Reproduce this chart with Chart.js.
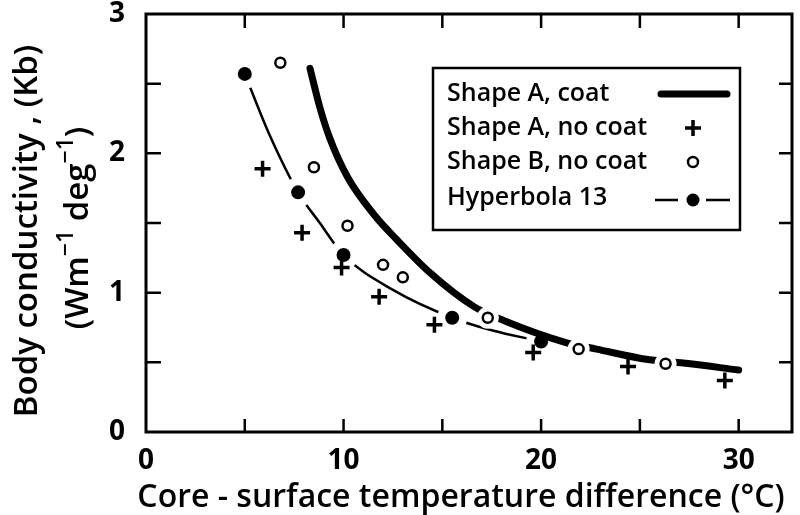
<!DOCTYPE html>
<html>
<head>
<meta charset="utf-8">
<title>Body conductivity vs core-surface temperature difference</title>
<script src="https://cdn.jsdelivr.net/npm/chart.js@4.4.1/dist/chart.umd.min.js"></script>
<style>
    html, body { margin: 0; padding: 0; background: #fff; }
    #wrap { width: 800px; height: 515px; }
</style>
</head>
<body>
<div id="wrap"><canvas id="chart" width="800" height="515"></canvas></div>
<script>
// Shape A, coat - thick curve
const coatX = [8.3, 8.8, 9.3, 10.2, 11.6, 12.7, 14.4, 16.6, 18.1, 21.3, 22.8, 25.4, 27.2, 30.0];
const coatY = [2.61, 2.33, 2.11, 1.83, 1.55, 1.38, 1.14, 0.90, 0.80, 0.64, 0.595, 0.52, 0.495, 0.445];

// Shape A, no coat - crosses
const bareAX = [5.9, 7.9, 9.9, 11.8, 14.6, 19.6, 24.4, 29.3];
const bareAY = [1.89, 1.43, 1.18, 0.97, 0.77, 0.57, 0.47, 0.37];

// Shape B, no coat - open circles
const bareBX = [6.8, 8.5, 10.2, 12.0, 13.0, 17.3, 21.9, 26.3];
const bareBY = [2.65, 1.90, 1.48, 1.20, 1.11, 0.82, 0.595, 0.49];

// Hyperbola 13 - thin curve and its marked points
const hypX = [5.0, 6.2, 7.7, 8.8, 10.0, 12.5, 15.5, 17.5, 20.0];
const hypY = [2.57, 2.15, 1.72, 1.50, 1.27, 1.02, 0.82, 0.73, 0.65];
const hypDotX = [5.0, 7.7, 10.0, 15.5, 20.0];
const hypDotY = [2.57, 1.72, 1.27, 0.82, 0.65];

const seriesNames = ['Shape A, coat', 'Shape A, no coat', 'Shape B, no coat', 'Hyperbola 13'];

const xTickLabels = [0, 10, 20, 30];
const yTickLabels = [0, 1, 2, 3];
const xTickMarks = [5, 10, 15, 20, 25, 30];
const yTickMarks = [0.5, 1, 1.5, 2, 2.5];

const xTitle = 'Core - surface temperature difference (°C)';
const yTitle1 = 'Body conductivity , (Kb)';

const FONT = '"Open Sans", "DejaVu Sans", sans-serif';
const INK = '#000';

const toPoints = (xs, ys) => xs.map((x, i) => ({ x: x, y: ys[i] }));

// white disc behind the open circles so the thick curve breaks around them
const haloPlugin = {
    id: 'halo',
    beforeDatasetDraw(chart, args) {
        if (args.index !== 1) return;
        const ctx = chart.ctx;
        ctx.save();
        ctx.fillStyle = '#fff';
        args.meta.data.forEach(p => {
            ctx.beginPath();
            ctx.arc(p.x, p.y, 11, 0, Math.PI * 2);
            ctx.fill();
        });
        ctx.restore();
    }
};

// boxed frame with inward tick marks on all four sides
const framePlugin = {
    id: 'frame',
    afterDatasetsDraw(chart) {
        const { ctx, chartArea: a, scales } = chart;
        ctx.save();
        ctx.strokeStyle = INK;
        ctx.lineWidth = 3;
        ctx.strokeRect(a.left, a.top, a.right - a.left, a.bottom - a.top);
        ctx.lineWidth = 2.5;
        ctx.beginPath();
        xTickMarks.forEach(v => {
            const px = scales.x.getPixelForValue(v);
            ctx.moveTo(px, a.bottom); ctx.lineTo(px, a.bottom - 13);
            ctx.moveTo(px, a.top); ctx.lineTo(px, a.top + 14);
        });
        yTickMarks.forEach(v => {
            const py = scales.y.getPixelForValue(v);
            ctx.moveTo(a.left, py); ctx.lineTo(a.left + 15, py);
            ctx.moveTo(a.right, py); ctx.lineTo(a.right - 13, py);
        });
        ctx.stroke();
        ctx.restore();
    }
};

// axis titles: x along the bottom, y as two rotated lines (second with superscripts)
const titlesPlugin = {
    id: 'axisTitles',
    afterDraw(chart) {
        const ctx = chart.ctx;
        ctx.save();
        ctx.fillStyle = INK;
        ctx.textBaseline = 'alphabetic';

        ctx.font = '600 32px ' + FONT;
        ctx.textAlign = 'center';
        ctx.fillText(xTitle, 461, 507);

        ctx.save();
        ctx.translate(37, 231);
        ctx.rotate(-Math.PI / 2);
        ctx.font = '600 33px ' + FONT;
        ctx.fillText(yTitle1, 0, 0);
        ctx.restore();

        const main = '600 33px ' + FONT;
        const sup = '600 23px ' + FONT;
        const parts = [
            { text: '(Wm', font: main, dy: 0 },
            { text: '\u22121', font: sup, dy: -15 },
            { text: ' deg', font: main, dy: 0 },
            { text: '\u22121', font: sup, dy: -15 },
            { text: ')', font: main, dy: 0 }
        ];
        ctx.translate(88, 228);
        ctx.rotate(-Math.PI / 2);
        ctx.textAlign = 'left';
        let total = 0;
        parts.forEach(p => {
            ctx.font = p.font;
            p.w = ctx.measureText(p.text).width;
            total += p.w;
        });
        let x = -total / 2;
        parts.forEach(p => {
            ctx.font = p.font;
            ctx.fillText(p.text, x, p.dy);
            x += p.w;
        });
        ctx.restore();
    }
};

// legend box in the upper right of the plot
const legendPlugin = {
    id: 'boxLegend',
    afterDraw(chart) {
        const ctx = chart.ctx;
        const box = { x: 433, y: 68, w: 307, h: 162 };
        const rows = [94, 128, 162, 198];
        const symX = 693;
        ctx.save();
        ctx.fillStyle = '#fff';
        ctx.fillRect(box.x, box.y, box.w, box.h);
        ctx.strokeStyle = INK;
        ctx.lineWidth = 2.5;
        ctx.strokeRect(box.x, box.y, box.w, box.h);

        ctx.fillStyle = INK;
        ctx.font = '600 25px ' + FONT;
        ctx.textBaseline = 'middle';
        ctx.textAlign = 'left';
        seriesNames.forEach((name, i) => ctx.fillText(name, 447, rows[i]));

        // thick line
        ctx.lineCap = 'round';
        ctx.lineWidth = 7;
        ctx.beginPath();
        ctx.moveTo(661, rows[0]); ctx.lineTo(727, rows[0]);
        ctx.stroke();
        // cross
        ctx.lineCap = 'butt';
        ctx.lineWidth = 3.5;
        ctx.beginPath();
        ctx.moveTo(symX - 8, rows[1]); ctx.lineTo(symX + 8, rows[1]);
        ctx.moveTo(symX, rows[1] - 8); ctx.lineTo(symX, rows[1] + 8);
        ctx.stroke();
        // open circle
        ctx.lineWidth = 2.5;
        ctx.beginPath();
        ctx.arc(symX, rows[2], 5, 0, Math.PI * 2);
        ctx.stroke();
        // dash - dot - dash
        ctx.lineWidth = 2.5;
        ctx.beginPath();
        ctx.moveTo(655, rows[3] + 2); ctx.lineTo(678, rows[3] + 2);
        ctx.moveTo(706, rows[3] + 2); ctx.lineTo(730, rows[3] + 2);
        ctx.stroke();
        ctx.beginPath();
        ctx.arc(symX, rows[3] + 2, 6.5, 0, Math.PI * 2);
        ctx.fill();
        ctx.restore();
    }
};

const ctx = document.getElementById('chart').getContext('2d');
const chart = new Chart(ctx, {
    type: 'scatter',
    data: {
        datasets: [
            {
                label: seriesNames[1],
                data: toPoints(bareAX, bareAY),
                pointStyle: 'cross',
                pointRadius: 8,
                pointBorderWidth: 3.5,
                borderColor: INK,
                showLine: false
            },
            {
                label: seriesNames[2],
                data: toPoints(bareBX, bareBY),
                pointStyle: 'circle',
                pointRadius: 5,
                pointBorderWidth: 2.5,
                borderColor: INK,
                pointBackgroundColor: '#fff',
                showLine: false
            },
            {
                label: seriesNames[0],
                data: toPoints(coatX, coatY),
                showLine: true,
                borderColor: INK,
                borderWidth: 7,
                borderCapStyle: 'round',
                cubicInterpolationMode: 'monotone',
                pointRadius: 0
            },
            {
                label: seriesNames[3],
                data: toPoints(hypDotX, hypDotY),
                showLine: false,
                pointStyle: 'circle',
                pointRadius: 11,
                pointBorderWidth: 8,
                pointBorderColor: '#fff',
                pointBackgroundColor: INK
            },
            {
                label: seriesNames[3] + ' curve',
                data: toPoints(hypX, hypY),
                showLine: true,
                borderColor: INK,
                borderWidth: 2.5,
                cubicInterpolationMode: 'monotone',
                pointRadius: 0
            }
        ]
    },
    options: {
        responsive: false,
        devicePixelRatio: 1,
        animation: false,
        layout: {
            autoPadding: false,
            padding: { left: 0, right: 8, top: 14, bottom: 0 }
        },
        plugins: {
            legend: { display: false },
            tooltip: { enabled: false }
        },
        scales: {
            x: {
                type: 'linear',
                min: 0,
                max: 32.7,
                grid: { display: false, drawTicks: false },
                border: { display: false },
                afterBuildTicks: (scale) => {
                    scale.ticks = xTickLabels.map(v => ({ value: v }));
                },
                afterFit: (scale) => {
                    scale.height = 83;
                    scale.paddingLeft = 0;
                    scale.paddingRight = 0;
                },
                ticks: {
                    color: INK,
                    padding: 12,
                    maxRotation: 0,
                    font: { family: FONT, size: 28, weight: 'bold' }
                }
            },
            y: {
                type: 'linear',
                min: 0,
                max: 3,
                grid: { display: false, drawTicks: false },
                border: { display: false },
                afterBuildTicks: (scale) => {
                    scale.ticks = yTickLabels.map(v => ({ value: v }));
                },
                afterFit: (scale) => {
                    scale.width = 146;
                    scale.paddingTop = 0;
                    scale.paddingBottom = 0;
                },
                ticks: {
                    color: INK,
                    padding: 21,
                    font: { family: FONT, size: 28, weight: 'bold' }
                }
            }
        }
    },
    plugins: [haloPlugin, framePlugin, titlesPlugin, legendPlugin]
});
</script>
</body>
</html>
